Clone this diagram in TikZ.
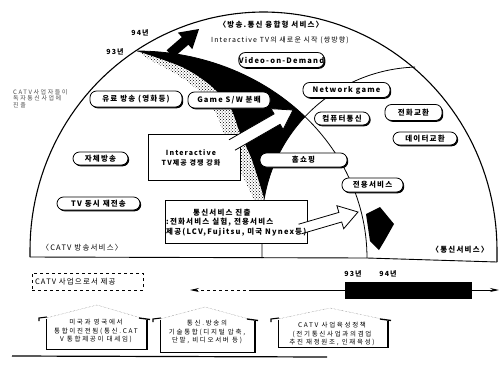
\documentclass[tikz,border=0pt]{standalone}
\usepackage{fontspec}
\setmainfont{Noto Sans CJK KR}
\newfontfamily\kf{Noto Sans CJK KR}[LetterSpace=16]
\newfontfamily\kw{Noto Sans CJK KR}[LetterSpace=26]
\usetikzlibrary{shadows,arrows.meta,patterns}
\newcommand\fsz[1]{\fontsize{#1}{#1}\selectfont}
\newcommand\myhouse[6]{%
  \draw[line width=0.6pt] (#1,#3+1) -- (#1,#4) -- (#2,#4);
  \draw[line width=1.4pt] (#2,#3+2) -- (#2,#4+1);
  \draw[densely dotted, black!60] (#1,#3) -- (#5,#6) -- (#2-6,#3);
  \draw[line width=1.3pt] (#2-8,#3) -- (#2+3,#3+1.5);
  \draw[line width=1.1pt] (#1-7,#3+3) -- (#1-7,#3) -- (#1+1,#3-1);
}
\begin{document}
\begin{tikzpicture}[x=1pt,y=-1pt,
  pill/.style={draw, line width=0.8pt, fill=white, rounded corners=6.5pt, inner sep=0pt,
    drop shadow={shadow xshift=1.2pt, shadow yshift=-1.3pt, opacity=1, fill=black},
    font=\kf\bfseries\fsz{7.5}},
  rbox/.style={draw, line width=0.8pt, fill=white, inner sep=0pt,
    drop shadow={shadow xshift=1.2pt, shadow yshift=-1.3pt, opacity=1, fill=black}},
  txt/.style={inner sep=0pt, font=\kf\fsz{7.5}},
  btxt/.style={inner sep=0pt, font=\kf\bfseries\fsz{7.5}},
  htxt/.style={inner sep=0pt, align=center, font=\kw\fontsize{6.5}{8.6}\selectfont},
  bnd/.style={line width=0.8pt},
]
\useasboundingbox (0,0) rectangle (503,370);

% outer boundary
\draw[line width=1.1pt] (30,257) -- plot[domain=180:0, samples=90] ({263.5+233.5*cos(\x)},{250-238*sin(\x)}) -- (497,262);
\draw[line width=0.9pt] (30,257) -- (367,258) -- (497,262);

% halftone fringe and black band
\fill[pattern=crosshatch dots] plot[smooth] coordinates {(264,199) (252,160) (240,133) (230,107) (210,85) (182,67) (137,51)}
  -- plot[smooth] coordinates {(150,60) (176,74) (199,91) (215,112) (226,139) (240,170) (254,200)} -- cycle;
\fill[black] plot[domain=90:43, samples=30] ({137+230*cos(\x)},{258-207*sin(\x)})
  -- plot[domain=136.8:170, samples=20] ({420+158*cos(\x)},{225-158*sin(\x)})
  -- plot[smooth] coordinates {(264,198) (252,160) (240,133) (230,107) (210,85) (182,67) (137,51)} -- cycle;

% inner boundaries
\draw[bnd] plot[domain=90:0, samples=60] ({137+230*cos(\x)},{258-207*sin(\x)});
\draw[bnd] plot[domain=91.8:180, samples=60] ({420+158*cos(\x)},{225-158*sin(\x)}) -- (262,258);

% top arrow and labels
\fill (166.7,50.2) -- (181.8,37.1) -- (177.9,32.6) -- (199,29) -- (192.3,49.2) -- (188.4,44.7) -- (173.3,57.8) -- cycle;
\node[btxt, font=\kf\bfseries\fsz{7}] (y94) at (140,33) {94년};
\node[btxt, font=\kf\bfseries\fsz{7}] (y93) at (115,52) {93년};
\node[btxt] (head) at (271,25) {〈방송.통신 융합형 서비스〉};
\node[txt, font=\kf\fsz{7}] (itv) at (280,40) {Interactive TV의 새로운 시작 (쌍방향)};

% service pills
\node[pill, minimum width=85pt, minimum height=15pt] (vod) at (281.5,60) {Video-on-Demand};
\node[pill, minimum width=92pt, minimum height=16pt] (pay) at (136,99) {유료 방송 (영화등)};
\node[pill, minimum width=82pt, minimum height=16pt] (game) at (229,100) {Game S/W 분배};
\node[pill, minimum width=87pt, minimum height=15pt] (net) at (346.5,90) {Network game};
\node[pill, minimum width=55pt, minimum height=13pt] (pc) at (342,118.5) {컴퓨터통신};
\node[pill, minimum width=57pt, minimum height=16pt] (tel) at (413.5,112.5) {전화교환};
\node[pill, minimum width=64pt, minimum height=13pt] (data) at (425,138.5) {데이터교환};
\node[pill, minimum width=87pt, minimum height=14pt] (shop) at (303.5,160) {홈쇼핑};
\node[pill, minimum width=61pt, minimum height=14pt] (lease) at (372.5,185) {전용서비스};
\node[pill, minimum width=55pt, minimum height=13pt] (own) at (100.5,158.5) {자체방송};
\node[pill, minimum width=83pt, minimum height=13pt] (simul) at (98.5,203.5) {TV 동시 재전송};

% interactive TV box with arrow
\node[rbox, minimum width=92pt, minimum height=46pt] (itvbox) at (194,157) {};
\fill[white] (229,139.8) -- (274.1,113.9) -- (271.1,108.7) -- (293,110) -- (283.1,129.5) -- (280.1,124.3) -- (235,150.2) -- cycle;
\draw[line width=0.8pt] (229,139.8) -- (274.1,113.9) -- (271.1,108.7) -- (293,110) -- (283.1,129.5) -- (280.1,124.3) -- (235,150.2);
\node[btxt, align=center, font=\kf\bfseries\fontsize{7}{10}\selectfont] (itvtxt) at (191,158) {Interactive\\TV제공 경쟁 강화};

% communication entry box with arrow
\node[rbox, minimum width=142pt, minimum height=43pt] (commbox) at (236,221.5) {};
\fill[white] (298.6,224.2) -- (338.9,212.4) -- (336.9,205.7) -- (358,212) -- (343.7,228.7) -- (341.7,222) -- (301.4,233.8) -- cycle;
\draw[line width=0.8pt] (298.6,224.2) -- (338.9,212.4) -- (336.9,205.7) -- (358,212) -- (343.7,228.7) -- (341.7,222) -- (301.4,233.8);
\node[btxt, anchor=west] (c1) at (193,213) {통신서비스 진출};
\node[btxt, anchor=west] (c2) at (166,222.5) {:전화서비스 실험, 전용서비스};
\node[btxt, anchor=west] (c3) at (166,232) {제공(LCV,Fujitsu, 미국 Nynex등)};

% right black arrow shape
\fill (366,214) -- (380,207) -- (394,224) -- (385,240) -- (379,250) -- (370,241) -- cycle;

% region labels
\node[txt] (catvlbl) at (82,248) {〈CATV 방송서비스〉};
\node[btxt] (commlbl) at (460,250) {〈통신서비스〉};
\node[inner sep=0pt, align=left, anchor=north west, text=black!70, font=\kw\fontsize{6}{6.8}\selectfont] (note) at (13,89) {CATV사업자들이\\독자통신사업에\\진출};

% bottom: timeline
\node[txt, draw, dashed, line width=0.6pt, align=left, text width=105pt, inner xsep=3pt, minimum height=17pt] (catvbiz) at (87.5,281.5) {CATV 사업으로서 제공};
\coordinate (tl) at (190,290);
\coordinate (tm) at (250,290);
\coordinate (tr) at (499,290);
\node[fill=black, minimum width=127pt, minimum height=17pt, inner sep=0pt] (bar) at (408.5,290) {};
\draw[dashed, line width=1pt, {Stealth[length=9pt,width=4pt]}-] (tl) -- (tm);
\draw[line width=1pt] (tm) -- (bar.west);
\draw[line width=1pt, -{Stealth[length=9pt,width=4pt]}] (bar.east) -- (tr);
\node[btxt, font=\kf\bfseries\fsz{7}] (t93) at (353,274) {93년};
\node[btxt, font=\kf\bfseries\fsz{7}] (t94) at (388,274) {94년};

% houses
\myhouse{46}{147}{318}{349}{97}{305}
\myhouse{160}{255}{319}{352}{205}{307}
\myhouse{278}{388}{319}{347}{330}{308}
\node[htxt] (h1) at (96,331) {미국과 영국에서\\통합이진전됨(통신.CAT\\V 통합제공이 대세임)};
\node[htxt] (h2) at (207,332) {통신.방송의\\기술통합(디지털 압축,\\단말, 비디오서버 등)};
\node[htxt] (h3) at (332,334) {CATV 사업육성정책\\(전기통신사업과의겸업\\추진 재정원조, 인재육성)};
\draw[line width=1.2pt] (12,356) -- (327,357);
\end{tikzpicture}
\end{document}
